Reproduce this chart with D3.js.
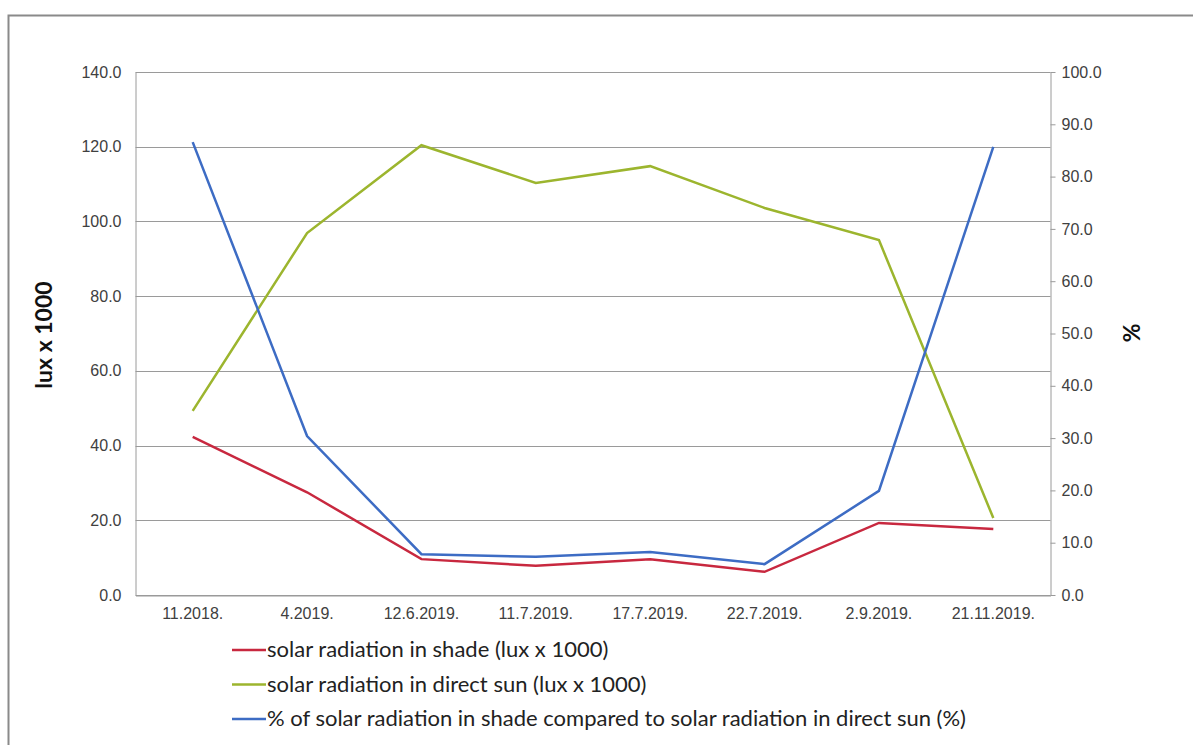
<!DOCTYPE html>
<html><head><meta charset="utf-8">
<script src="https://cdn.jsdelivr.net/npm/d3@7"></script>
<style>
body{margin:0;background:#fff;}
svg{font-family:Lato,"Open Sans","Liberation Sans",sans-serif;}
</style></head><body>
<svg id="c" width="1193" height="745"></svg>
<script>
const categories = ["11.2018.","4.2019.","12.6.2019.","11.7.2019.","17.7.2019.","22.7.2019.","2.9.2019.","21.11.2019."];
const shade = [42.3,27.5,9.6,7.8,9.6,6.2,19.3,17.7];
const sun = [49.3,96.9,120.4,110.3,114.8,103.6,95.0,20.6];
const percent = [86.6,30.4,7.8,7.3,8.2,5.9,19.9,85.7];
const leftTicks = [0,20,40,60,80,100,120,140];
const rightTicks = [0,10,20,30,40,50,60,70,80,90,100];
const seriesNames = ["solar radiation in shade (lux x 1000)","solar radiation in direct sun (lux x 1000)","% of solar radiation in shade compared to solar radiation in direct sun (%)"];
const colors = ["#c8283f","#9cb52e","#3d6cc4"];

const svg = d3.select("#c");
const L=135.5, R=1050.5, T=72, B=595;
svg.append("path").attr("d","M8.5,745 V15.5 H1193").attr("fill","none").attr("stroke","#8a8a8a").attr("stroke-width",2);

const x = d3.scaleBand().domain(categories).range([L,R]);
const yL = d3.scaleLinear().domain([0,140]).range([B,T]);
const yR = d3.scaleLinear().domain([0,100]).range([B,T]);

// gridlines
svg.append("g").selectAll("line").data(leftTicks).join("line")
  .attr("x1",L).attr("x2",R).attr("y1",d=>Math.round(yL(d))+0.5).attr("y2",d=>Math.round(yL(d))+0.5)
  .attr("stroke","#9a9a9a").attr("stroke-width",1);

// left axis
const gl = svg.append("g").attr("transform",`translate(${L},0)`)
  .call(d3.axisLeft(yL).tickValues(leftTicks).tickFormat(d3.format(".1f")).tickSize(0).tickPadding(14));
gl.select(".domain").attr("stroke","#9a9a9a");
gl.selectAll("text").attr("font-size",16).attr("fill","#404040");

// right axis
const gr = svg.append("g").attr("transform",`translate(${R},0)`)
  .call(d3.axisRight(yR).tickValues(rightTicks).tickFormat(d3.format(".1f")).tickSize(5).tickPadding(6).tickSizeOuter(0));
gr.select(".domain").attr("stroke","#9a9a9a");
gr.selectAll(".tick line").attr("stroke","#9a9a9a");
gr.selectAll("text").attr("font-size",16).attr("fill","#404040");

// bottom axis
const gb = svg.append("g").attr("transform",`translate(0,${B+0.5})`)
  .call(d3.axisBottom(x).tickSize(0).tickPadding(12));
gb.select(".domain").attr("stroke","#9a9a9a");
gb.selectAll("text").attr("font-size",16).attr("fill","#404040");

// axis titles
svg.append("text").attr("transform",`translate(52,335) rotate(-90)`).attr("text-anchor","middle")
  .attr("font-size",23).attr("font-weight","bold").attr("fill","#111").text("lux x 1000");
svg.append("text").attr("transform",`translate(1123,333) rotate(90)`).attr("text-anchor","middle")
  .attr("font-size",23).attr("font-weight","bold").attr("fill","#111").text("%");

const cx = d => x(d)+x.bandwidth()/2;
const lineL = d3.line().x((d,i)=>cx(categories[i])).y(d=>yL(d));
const lineR = d3.line().x((d,i)=>cx(categories[i])).y(d=>yR(d));
svg.append("path").datum(sun).attr("d",lineL).attr("fill","none").attr("stroke",colors[1]).attr("stroke-width",2.5);
svg.append("path").datum(percent).attr("d",lineR).attr("fill","none").attr("stroke",colors[2]).attr("stroke-width",2.5);
svg.append("path").datum(shade).attr("d",lineL).attr("fill","none").attr("stroke",colors[0]).attr("stroke-width",2.5);

// legend
const lg = svg.append("g").selectAll("g").data(seriesNames).join("g")
  .attr("transform",(d,i)=>`translate(232,${650+i*34.5})`);
lg.append("line").attr("x1",0).attr("x2",34).attr("y1",0).attr("y2",0).attr("stroke",(d,i)=>colors[i]).attr("stroke-width",2.5);
lg.append("text").attr("x",35).attr("y",7).attr("font-size",22).attr("fill","#222").text(d=>d);
</script>
</body></html>
